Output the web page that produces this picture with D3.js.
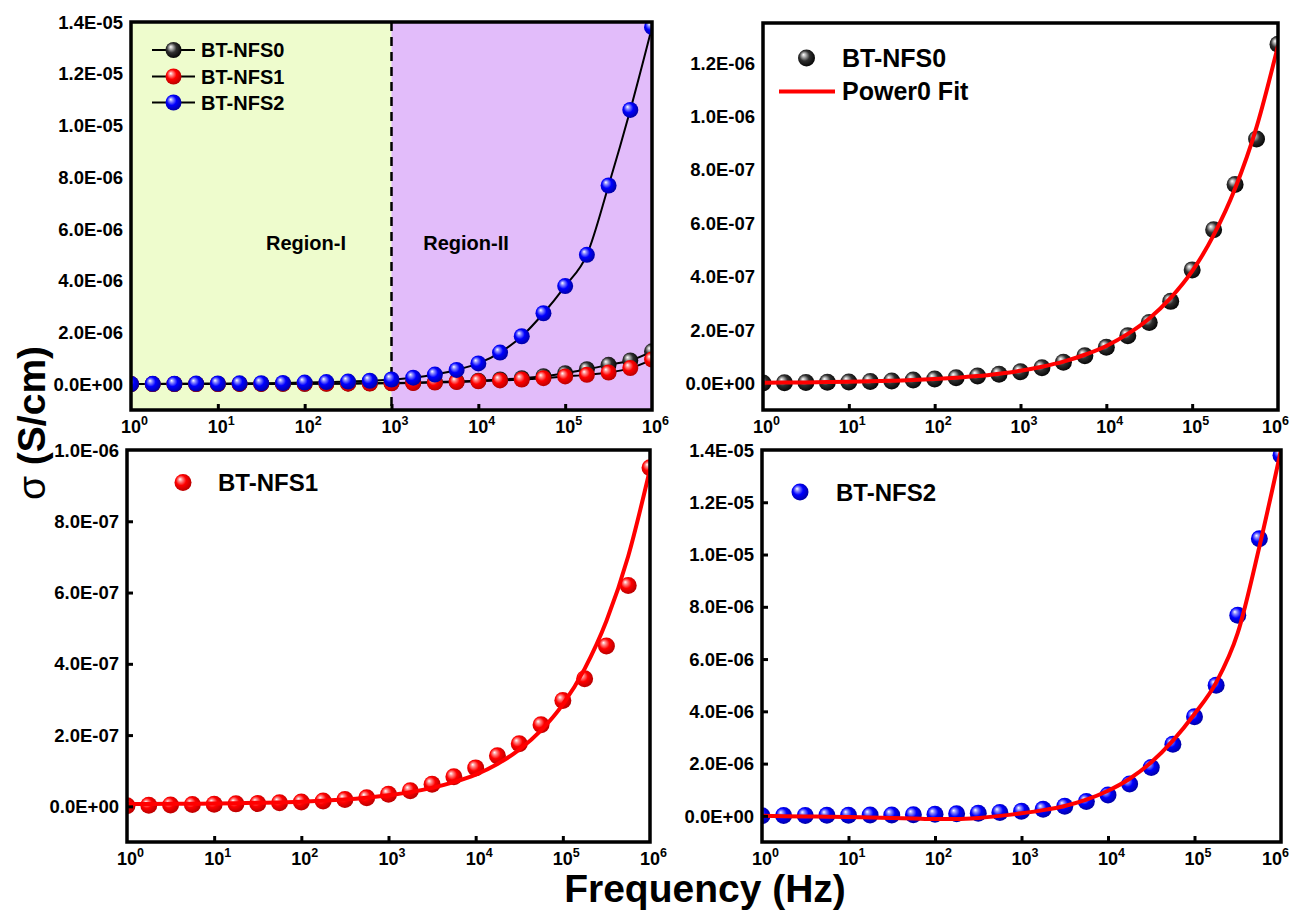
<!DOCTYPE html>
<html><head><meta charset="utf-8">
<script src="https://cdn.jsdelivr.net/npm/d3@7"></script>
<style>body{margin:0;background:#fff}svg{display:block}text{font-family:"Liberation Sans",Arial,sans-serif}</style>
</head><body><svg id="c" width="1292" height="913"></svg>
<script>
// ---- data ----
const freq = [1, 1.778, 3.162, 5.623, 10, 17.78, 31.62, 56.23, 100, 177.8, 316.2, 562.3, 1000, 1778, 3162, 5623, 10000, 17783, 31623, 56234, 100000, 177828, 316228, 562341, 1000000];
const nfs0 = [0.01e-7,0.02e-7,0.03e-7,0.04e-7,0.05e-7,0.07e-7,0.09e-7,0.12e-7,0.16e-7,0.21e-7,0.27e-7,0.34e-7,0.43e-7,0.58e-7,0.79e-7,1.03e-7,1.35e-7,1.78e-7,2.28e-7,3.07e-7,4.25e-7,5.75e-7,7.45e-7,9.15e-7,12.7e-7];
const nfs1 = [0.02e-7,0.03e-7,0.04e-7,0.05e-7,0.06e-7,0.07e-7,0.08e-7,0.10e-7,0.12e-7,0.15e-7,0.19e-7,0.24e-7,0.34e-7,0.44e-7,0.62e-7,0.83e-7,1.08e-7,1.42e-7,1.76e-7,2.29e-7,2.97e-7,3.58e-7,4.5e-7,6.2e-7,9.5e-7];
const nfs2 = [0.005e-6,0.01e-6,0.015e-6,0.02e-6,0.025e-6,0.03e-6,0.035e-6,0.045e-6,0.06e-6,0.08e-6,0.10e-6,0.13e-6,0.18e-6,0.25e-6,0.37e-6,0.55e-6,0.80e-6,1.22e-6,1.85e-6,2.74e-6,3.79e-6,5.0e-6,7.68e-6,10.6e-6,13.8e-6];
const fit0 = [0.022e-7,0.028e-7,0.035e-7,0.045e-7,0.058e-7,0.075e-7,0.095e-7,0.12e-7,0.16e-7,0.21e-7,0.27e-7,0.36e-7,0.47e-7,0.62e-7,0.81e-7,1.07e-7,1.40e-7,1.85e-7,2.43e-7,3.2e-7,4.2e-7,5.55e-7,7.3e-7,9.6e-7,12.65e-7];
const fit1 = [0.067e-7,0.068e-7,0.07e-7,0.075e-7,0.08e-7,0.09e-7,0.10e-7,0.11e-7,0.13e-7,0.16e-7,0.19e-7,0.24e-7,0.31e-7,0.40e-7,0.52e-7,0.68e-7,0.89e-7,1.19e-7,1.59e-7,2.13e-7,2.86e-7,3.86e-7,5.2e-7,7.02e-7,9.46e-7];
const fit2 = [0.0,-0.01e-6,-0.02e-6,-0.03e-6,-0.04e-6,-0.06e-6,-0.08e-6,-0.10e-6,-0.12e-6,-0.12e-6,-0.08e-6,0.0,0.1e-6,0.22e-6,0.38e-6,0.62e-6,0.96e-6,1.42e-6,2.05e-6,2.88e-6,3.9e-6,5.1e-6,7.0e-6,10.3e-6,14.0e-6];
const xTickExp = [0,1,2,3,4,5,6];
const yTicksBig = [0,2e-6,4e-6,6e-6,8e-6,1e-5,1.2e-5,1.4e-5];
const yTicksSmall0 = [0,2e-7,4e-7,6e-7,8e-7,1e-6,1.2e-6];
const yTicksSmall1 = [0,2e-7,4e-7,6e-7,8e-7,1e-6];
const seriesNames = ["BT-NFS0","BT-NFS1","BT-NFS2"];
const fitName = "Power0 Fit";
const regionNames = ["Region-I","Region-II"];
const regionBoundary = 1000;

// ---- drawing ----
const svg = d3.select("#c");
const defs = svg.append("defs");
const grads = {
  black:["#ffffff","#b0b0b0","#303030","#000000"],
  red:["#ffffff","#ff8a8a","#ff0000","#b00000"],
  blue:["#ffffff","#8a8aff","#0000ff","#00009a"]
};
Object.entries(grads).forEach(([k,c])=>{
  const g = defs.append("radialGradient").attr("id","g_"+k).attr("cx","45%").attr("cy","45%").attr("r","60%").attr("fx","32%").attr("fy","30%");
  [[0,c[0]],[0.2,c[1]],[0.5,c[2]],[1,c[3]]].forEach(([o,col])=>g.append("stop").attr("offset",o).attr("stop-color",col));
});

function fmtE(v){
  if (v===0) return "0.0E+00";
  let e = Math.floor(Math.log10(Math.abs(v))+1e-9);
  let m = v/Math.pow(10,e);
  const s = e<0?"-":"+";
  const ae = Math.abs(e);
  return m.toFixed(1)+"E"+s+(ae<10?"0":"")+ae;
}

let clipId=0;
function panel(o){
  const x = d3.scaleLog().domain([1,1e6]).range([o.x0,o.x1]);
  const y = d3.scaleLinear().domain(o.yd).range([o.y1,o.y0]);
  const g = svg.append("g");
  const id = "clip"+(clipId++);
  defs.append("clipPath").attr("id",id).append("rect").attr("x",o.x0).attr("y",o.y0).attr("width",o.x1-o.x0).attr("height",o.y1-o.y0);
  const plot = g.append("g").attr("clip-path",`url(#${id})`);
  return {x,y,g,plot,o};
}
function frame(p){
  const {x,y,g,o} = p;
  const xa = d3.axisBottom(x).tickValues(xTickExp.slice(1,-1).map(e=>Math.pow(10,e))).tickSize(-6).tickFormat("");
  const xg = g.append("g").attr("transform",`translate(0,${o.y1})`).call(xa);
  xg.select(".domain").remove();
  xg.selectAll("line").attr("stroke","#000").attr("stroke-width",3);
  if (o.yTickMarks){
    const ya = d3.axisLeft(y).tickValues(o.yt.filter(v=>v>o.yd[0]&&v<o.yd[1])).tickSize(-6).tickFormat("");
    const yg = g.append("g").attr("transform",`translate(${o.x0},0)`).call(ya);
    yg.select(".domain").remove();
    yg.selectAll("line").attr("stroke","#000").attr("stroke-width",3);
  }
  g.append("rect").attr("x",o.x0).attr("y",o.y0).attr("width",o.x1-o.x0).attr("height",o.y1-o.y0)
    .attr("fill","none").attr("stroke","#000").attr("stroke-width",3.5);
  g.selectAll(null).data(o.yt).enter().append("text")
    .attr("x",o.x0-8).attr("y",d=>y(d)).attr("dy","0.36em").attr("text-anchor","end")
    .attr("font-size",18.5).attr("font-weight","bold").text(fmtE);
  const xl = g.selectAll(null).data(xTickExp).enter().append("text")
    .attr("x",d=>Math.min(x(Math.pow(10,d))-10, 1290-28)).attr("y",o.y1+23).attr("text-anchor","start")
    .attr("font-size",18).attr("font-weight","bold");
  xl.append("tspan").text("10");
  xl.append("tspan").attr("dy",-8).attr("font-size",12.5).text(d=>d);
}
function balls(p,data,color,r){
  p.plot.append("g").selectAll("circle").data(freq).enter().append("circle")
    .attr("cx",d=>p.x(d)).attr("cy",(d,i)=>p.y(data[i])).attr("r",r).attr("fill",`url(#g_${color})`);
}
function line(p,data,color,w){
  p.plot.append("path").datum(freq).attr("fill","none").attr("stroke",color).attr("stroke-width",w)
    .attr("d",d3.line().x(d=>p.x(d)).y((d,i)=>p.y(data[i])).curve(d3.curveMonotoneX));
}
function ball(x0,y0,color,r){
  svg.append("circle").attr("cx",x0).attr("cy",y0).attr("r",r).attr("fill",`url(#g_${color})`);
}

// Panel 1
const p1 = panel({x0:131,x1:652,y0:22,y1:410,yd:[-1e-6,1.4e-5],yt:yTicksBig});
p1.plot.append("rect").attr("x",p1.x(1)).attr("y",22).attr("width",p1.x(regionBoundary)-p1.x(1)).attr("height",388).attr("fill","#eefccd");
p1.plot.append("rect").attr("x",p1.x(regionBoundary)).attr("y",22).attr("width",p1.x(1e6)-p1.x(regionBoundary)).attr("height",388).attr("fill","#e2bcfa");
p1.plot.append("line").attr("x1",p1.x(regionBoundary)).attr("x2",p1.x(regionBoundary)).attr("y1",22).attr("y2",410)
  .attr("stroke","#000").attr("stroke-width",2.5).attr("stroke-dasharray","9,6");
p1.g.append("text").attr("x",306).attr("y",243).attr("dy","0.36em").attr("text-anchor","middle").attr("font-size",20).attr("font-weight","bold").text(regionNames[0]);
p1.g.append("text").attr("x",466).attr("y",243).attr("dy","0.36em").attr("text-anchor","middle").attr("font-size",20).attr("font-weight","bold").text(regionNames[1]);
line(p1,nfs0,"#000",2); line(p1,nfs1,"#000",2); line(p1,nfs2,"#000",2);
balls(p1,nfs0,"black",8); balls(p1,nfs1,"red",8); balls(p1,nfs2,"blue",8);
frame(p1);
[["black",50],["red",76.5],["blue",102.5]].forEach(([c,yy],i)=>{
  svg.append("line").attr("x1",152).attr("x2",195).attr("y1",yy).attr("y2",yy).attr("stroke","#000").attr("stroke-width",2);
  ball(173.5,yy,c,8);
  svg.append("text").attr("x",201).attr("y",yy).attr("dy","0.36em").attr("font-size",20).attr("font-weight","bold").text(seriesNames[i]);
});

// Panel 2
const p2 = panel({x0:763,x1:1278,y0:23,y1:410,yd:[-1e-7,1.35e-6],yt:yTicksSmall0});
balls(p2,nfs0,"black",8.5); line(p2,fit0,"#ff0000",4);
frame(p2);
ball(806.5,58,"black",8.5);
svg.append("text").attr("x",842).attr("y",58).attr("dy","0.36em").attr("font-size",25).attr("font-weight","bold").text(seriesNames[0]);
svg.append("line").attr("x1",779).attr("x2",835).attr("y1",91.5).attr("y2",91.5).attr("stroke","#ff0000").attr("stroke-width",4);
svg.append("text").attr("x",842).attr("y",91).attr("dy","0.36em").attr("font-size",25).attr("font-weight","bold").text(fitName);

// Panel 3
const p3 = panel({x0:127,x1:650,y0:450,y1:842,yd:[-1e-7,1e-6],yt:yTicksSmall1,yTickMarks:true});
balls(p3,nfs1,"red",8.5); line(p3,fit1,"#ff0000",4);
frame(p3);
ball(183,482.5,"red",8.5);
svg.append("text").attr("x",218).attr("y",482.5).attr("dy","0.36em").attr("font-size",24).attr("font-weight","bold").text(seriesNames[1]);

// Panel 4
const p4 = panel({x0:762,x1:1281,y0:450,y1:842,yd:[-1e-6,1.4e-5],yt:yTicksBig,yTickMarks:true});
balls(p4,nfs2,"blue",8.5); line(p4,fit2,"#ff0000",4);
frame(p4);
ball(800,492,"blue",8.5);
svg.append("text").attr("x",836).attr("y",492).attr("dy","0.36em").attr("font-size",24).attr("font-weight","bold").text(seriesNames[2]);

// Axis titles
svg.append("text").attr("x",705).attr("y",902).attr("text-anchor","middle").attr("font-size",39).attr("font-weight","bold").text("Frequency (Hz)");
const yt = svg.append("text").attr("transform","translate(45,423) rotate(-90)").attr("text-anchor","middle").attr("font-size",39);
yt.append("tspan").text("σ ");
yt.append("tspan").attr("font-weight","bold").text("(S/cm)");
</script></body></html>
